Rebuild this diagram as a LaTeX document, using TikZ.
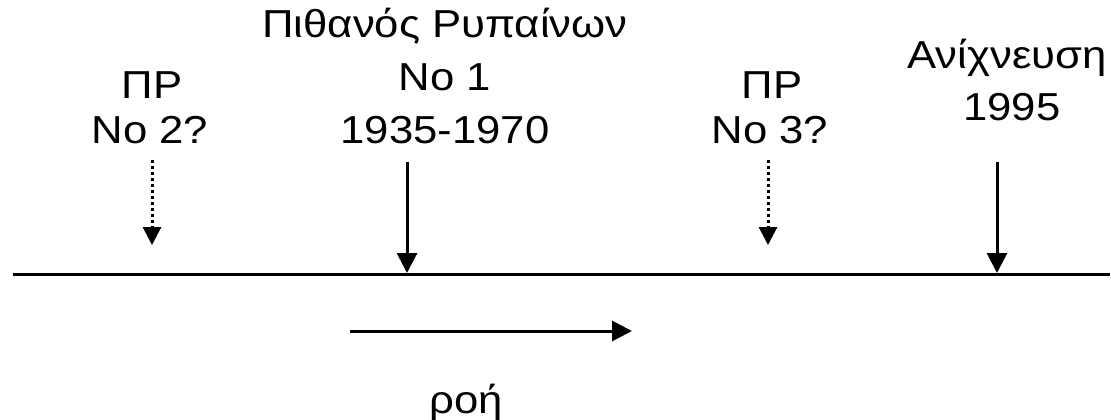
\documentclass[tikz,border=0pt]{standalone}
\usepackage{fontspec}
\setmainfont{Liberation Sans}[FakeStretch=1.12]
\usetikzlibrary{arrows.meta}
\begin{document}
\begin{tikzpicture}[x=1pt,y=-1pt,
  lbl/.style={inner sep=0pt,anchor=base,font=\fontsize{39}{46}\selectfont},
  axisline/.style={line width=2.6pt,line cap=butt},
  solidarrow/.style={line width=3pt,-{Triangle[width=20pt,length=20pt]}},
  dotarrow/.style={line width=3pt,dash pattern=on 3pt off 3pt,-{Triangle[width=18pt,length=18pt]}},
  flowarrow/.style={line width=3pt,-{Triangle[width=20pt,length=20pt]}}]
\useasboundingbox (0,0) rectangle (1111,420);
% axis
\coordinate (axL) at (13,274.5);
\coordinate (axR) at (1110,274.5);
\draw[axisline] (axL) -- (axR);
% labels
\node[lbl] (pr2a) at (152,99) {ΠΡ};
\node[lbl] (pr2b) at (150,143) {No 2?};
\node[lbl] (p1a) at (445,38) {Πιθανός Ρυπαίνων};
\node[lbl] (p1b) at (445,91) {No 1};
\node[lbl] (p1c) at (445,143) {1935-1970};
\node[lbl] (pr3a) at (772,99) {ΠΡ};
\node[lbl] (pr3b) at (770,143) {No 3?};
\node[lbl] (da) at (1007,69) {Ανίχνευση};
\node[lbl] (db) at (1012,121) {1995};
\node[lbl] (flow) at (466,413) {ροή};
% arrow coordinates
\coordinate (s2) at (152,160);
\coordinate (e2) at (152,245);
\coordinate (s1) at (407,162);
\coordinate (e1) at (407,273);
\coordinate (s3) at (768,160);
\coordinate (e3) at (768,245);
\coordinate (s4) at (997,162);
\coordinate (e4) at (997,273);
\coordinate (fs) at (350,331);
\coordinate (fe) at (632,331);
\draw[dotarrow] (s2) -- (e2);
\draw[solidarrow] (s1) -- (e1);
\draw[dotarrow] (s3) -- (e3);
\draw[solidarrow] (s4) -- (e4);
\draw[flowarrow] (fs) -- (fe);
\end{tikzpicture}
\end{document}
